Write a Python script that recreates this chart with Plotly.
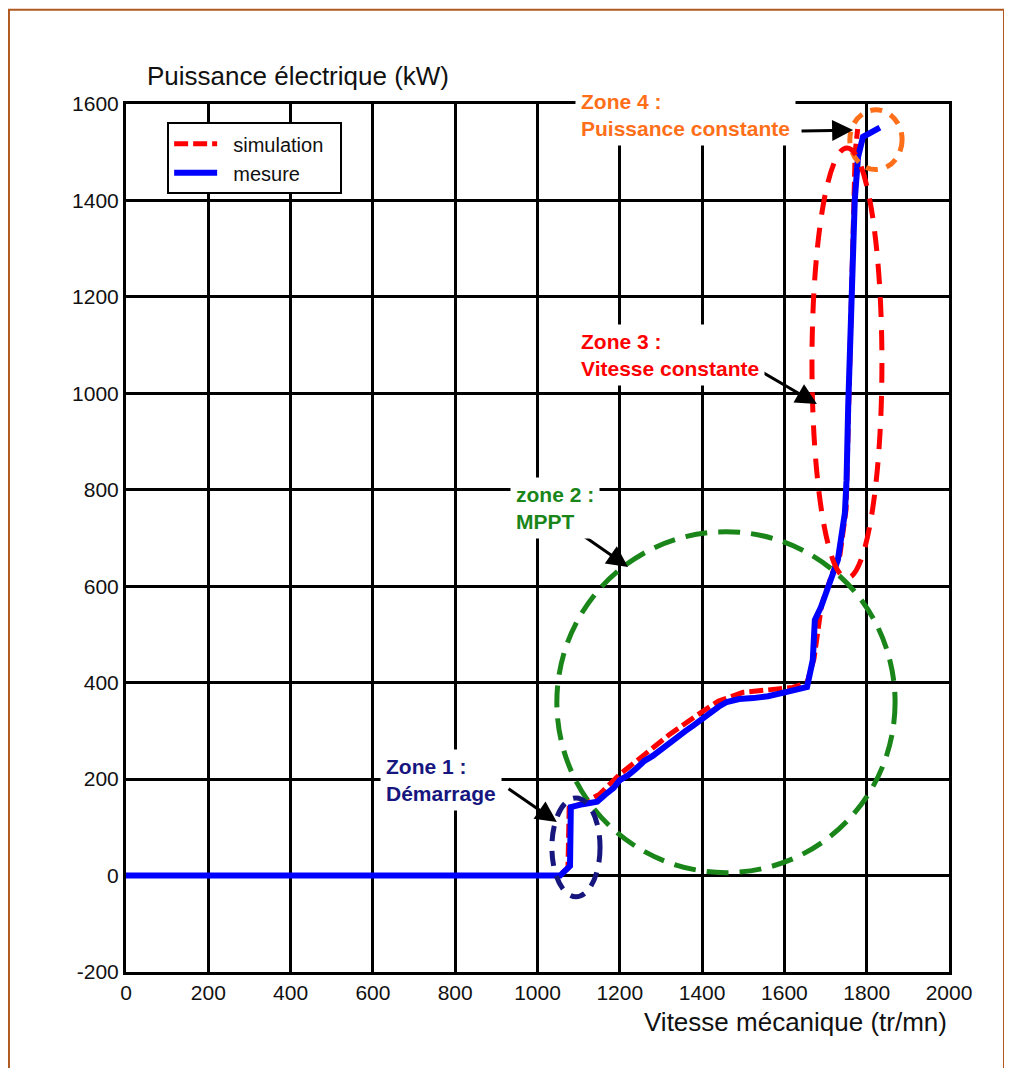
import plotly.graph_objects as go

# ---- data ----
meas_x = [0, 1055, 1079, 1081, 1110, 1145, 1165, 1185, 1200, 1220, 1240, 1260, 1280, 1300,
          1320, 1340, 1360, 1380, 1400, 1420, 1440, 1460, 1490, 1524, 1560, 1606, 1640, 1655,
          1669, 1674, 1689, 1717, 1730, 1747, 1751, 1755, 1759, 1764, 1771, 1779, 1791, 1832]
meas_y = [0, 0, 20, 142, 148, 153, 168, 182, 198, 208, 222, 238, 248, 262,
          275, 290, 300, 312, 326, 338, 350, 360, 366, 368, 372, 381, 386, 391,
          447, 530, 557, 620, 655, 752, 820, 972, 1111, 1194, 1401, 1490, 1532, 1551]

sim_x = [0, 1052, 1074, 1077, 1110, 1150, 1200, 1260, 1320, 1380, 1440, 1500, 1560, 1620,
         1655, 1672, 1690, 1717, 1735, 1750, 1757, 1762, 1768, 1772, 1778]
sim_y = [0, 0, 15, 140, 150, 168, 210, 252, 292, 328, 362, 380, 386, 390,
         400, 450, 560, 628, 665, 760, 1000, 1200, 1400, 1500, 1548]

x_ticks = [0, 200, 400, 600, 800, 1000, 1200, 1400, 1600, 1800, 2000]
y_ticks = [-200, 0, 200, 400, 600, 800, 1000, 1200, 1400, 1600]
y_tick_text = ["-200", "0", "200", "400", "600", "800", "1000", "1200", "1400", "1600"]

# zones: label, color, text anchor (x, y), arrow tail (x, y), arrow tip (x, y), ellipse (x0, x1, y0, y1), dash
zones = [
    ("Zone 4 :<br>Puissance constante", "#ff6f1a", (1091, 1577), (1638, 1544), (1767, 1546),
     (1759, 1886, 1464, 1588), "12px,9px"),
    ("Zone 3 :<br>Vitesse constante", "#ff0000", (1091, 1079), (1536, 1049), (1679, 978),
     (1667, 1837, 617, 1509), "20px,13px"),
    ("zone 2 :<br>MPPT", "#1a861a", (933, 762), (1084, 721), (1220, 640),
     (1047, 1869, 6, 713), "22px,11px"),
    ("Zone 1 :<br>Démarrage", "#16167e", (617, 199), (926, 182), (1047, 111),
     (1035, 1152, -44, 161), "15px,10px"),
]

ANN_FONT = "Liberation Sans, Arial, sans-serif"
BASE_FONT = "Liberation Sans, Arial, sans-serif"

fig = go.Figure()
fig.add_trace(go.Scatter(x=sim_x, y=sim_y, mode="lines", name="&nbsp;&nbsp;simulation&nbsp;&nbsp;",
                         line=dict(color="#ff0000", width=5, dash="14px,5px")))
fig.add_trace(go.Scatter(x=meas_x, y=meas_y, mode="lines", name="&nbsp;&nbsp;mesure",
                         line=dict(color="#0000ff", width=6)))

shapes = []
annotations = []
for label, col, (tx, ty), (ax, ay), (hx, hy), (ex0, ex1, ey0, ey1), dash in zones:
    shapes.append(dict(type="circle", xref="x", yref="y", x0=ex0, x1=ex1, y0=ey0, y1=ey1,
                       line=dict(color=col, width=5, dash=dash), layer="above"))
    annotations.append(dict(x=hx, y=hy, ax=ax, ay=ay, xref="x", yref="y", axref="x", ayref="y",
                            text="", showarrow=True, arrowhead=2, arrowsize=1.4, arrowwidth=3,
                            arrowcolor="black"))
    annotations.append(dict(x=tx, y=ty, xref="x", yref="y", text="<b>" + label + "</b>",
                            showarrow=False, xanchor="left", yanchor="middle", align="left",
                            bgcolor="white", borderpad=5,
                            font=dict(family=ANN_FONT, size=21, color=col)))

# axis titles
annotations.append(dict(x=0.023, y=1.032, xref="paper", yref="paper",
                        text="Puissance électrique (kW)", showarrow=False,
                        xanchor="left", yanchor="middle",
                        font=dict(family=BASE_FONT, size=26, color="#111111")))
annotations.append(dict(x=1.0, y=-0.058, xref="paper", yref="paper",
                        text="Vitesse mécanique (tr/mn)", showarrow=False,
                        xanchor="right", yanchor="middle",
                        font=dict(family=BASE_FONT, size=26, color="#111111")))

# outer brown frame
shapes.append(dict(type="rect", xref="paper", yref="paper", x0=-0.1422, x1=1.0668,
                   y0=-0.115, y1=1.1085, line=dict(color="#b05a22", width=2), layer="below"))

axis_common = dict(showgrid=True, gridcolor="black", gridwidth=2.5, zeroline=False,
                   showline=True, linecolor="black", linewidth=3, mirror=True, ticks="",
                   tickfont=dict(family=BASE_FONT, size=21, color="#111111"))

fig.update_layout(
    width=1004, height=1060,
    margin=dict(l=118, r=63, t=96, b=96),
    paper_bgcolor="white", plot_bgcolor="white",
    font=dict(family=BASE_FONT),
    xaxis=dict(range=[0, 2000], tickvals=x_ticks, **axis_common),
    yaxis=dict(range=[-200, 1600], tickvals=y_ticks, ticktext=y_tick_text, **axis_common),
    showlegend=True,
    legend=dict(x=0.05, y=0.979, xanchor="left", yanchor="top", bgcolor="white",
                bordercolor="black", borderwidth=2, itemwidth=43,
                font=dict(family=BASE_FONT, size=20, color="#111111"),
                tracegroupgap=0),
    shapes=shapes,
    annotations=annotations,
)

fig.write_html("out.html")
